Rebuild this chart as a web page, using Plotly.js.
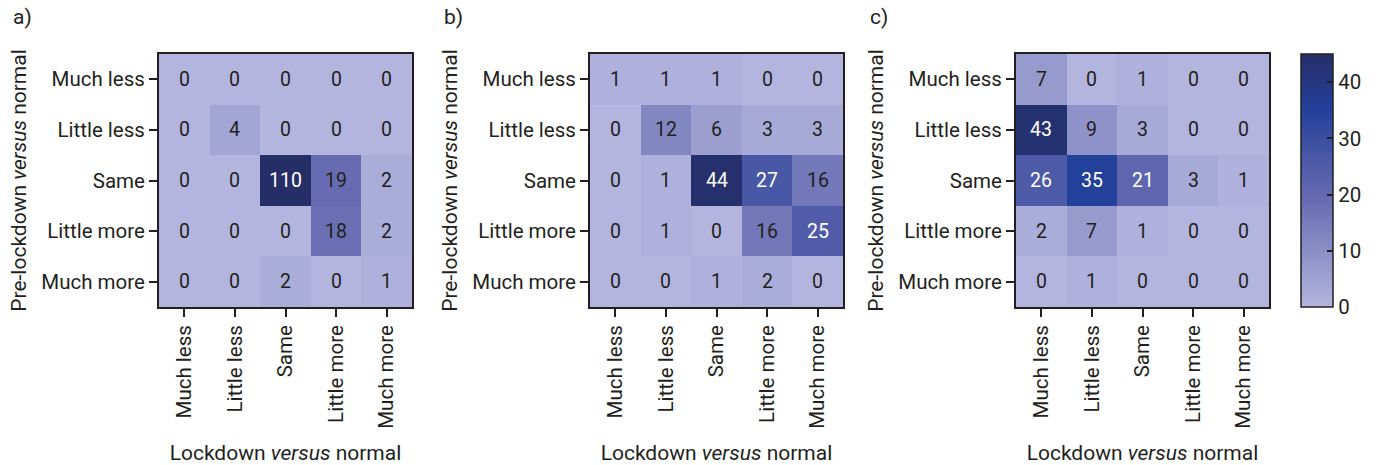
<!DOCTYPE html>
<html>
<head>
<meta charset="utf-8">
<script src="https://cdn.plot.ly/plotly-3.0.1.min.js"></script>
<style>html,body{margin:0;padding:0;background:#fff;}#chart{width:1376px;height:465px;}</style>
</head>
<body>
<div id="chart"></div>
<script>
const lockdownCategories = ["Much less", "Little less", "Same", "Little more", "Much more"];
const preLockdownCategories = ["Much less", "Little less", "Same", "Little more", "Much more"];
const panelLabels = ["a)", "b)", "c)"];

const panelA = [
  [0, 0, 0, 0, 0],
  [0, 4, 0, 0, 0],
  [0, 0, 110, 19, 2],
  [0, 0, 0, 18, 2],
  [0, 0, 2, 0, 1]
];
const panelB = [
  [1, 1, 1, 0, 0],
  [0, 12, 6, 3, 3],
  [0, 1, 44, 27, 16],
  [0, 1, 0, 16, 25],
  [0, 0, 1, 2, 0]
];
const panelC = [
  [7, 0, 1, 0, 0],
  [43, 9, 3, 0, 0],
  [26, 35, 21, 3, 1],
  [2, 7, 1, 0, 0],
  [0, 1, 0, 0, 0]
];
const colorbarTicks = [0, 10, 20, 30, 40];

const panels = [panelA, panelB, panelC];
const W = 1376, H = 465;
const xPix = [[159, 412], [590, 843], [1016, 1269]];
const yPix = [54, 307];
const FONT = "Roboto, 'DejaVu Sans', sans-serif";
const TXT = "#231f20";
const TICK_SIZE = 20.5;
const TITLE_SIZE = 21;
const CELL_SIZE = 19.5;

const colorscale = [
  [0.0, "#b3b5de"],
  [0.22, "#8b8fc6"],
  [0.44, "#6469b0"],
  [0.6, "#4857a6"],
  [0.78, "#23409a"],
  [1.0, "#262e68"]
];

const traces = [];
const annotations = [];
const layout = {
  width: W, height: H,
  margin: {l: 0, r: 0, t: 0, b: 0},
  paper_bgcolor: "#fff", plot_bgcolor: "#fff",
  font: {family: FONT, size: TICK_SIZE, color: TXT},
  showlegend: false
};

panels.forEach((z, i) => {
  const n = i === 0 ? "" : String(i + 1);
  traces.push({
    type: "heatmap",
    z: z,
    x: lockdownCategories,
    y: preLockdownCategories,
    xaxis: "x" + n,
    yaxis: "y" + n,
    zmin: 0, zmax: 45,
    colorscale: colorscale,
    showscale: i === 2,
    hoverinfo: "skip",
    colorbar: {
      x: 1301 / W, xanchor: "left", xpad: 0, ypad: 0,
      thickness: 32, thicknessmode: "pixels",
      len: (yPix[1] - yPix[0]) / H, lenmode: "fraction",
      y: 1 - (yPix[0] + yPix[1]) / 2 / H, yanchor: "middle",
      outlinewidth: 1.5, outlinecolor: TXT,
      tickvals: colorbarTicks,
      ticks: "inside", ticklen: 6, tickwidth: 2, tickcolor: TXT,
      tickfont: {family: FONT, size: TICK_SIZE, color: TXT}
    }
  });
  layout["xaxis" + n] = {
    domain: [xPix[i][0] / W, xPix[i][1] / W],
    anchor: "y" + n,
    type: "category",
    categoryorder: "array", categoryarray: lockdownCategories,
    tickangle: -90,
    ticks: "outside", ticklen: 8, tickwidth: 2, tickcolor: TXT,
    showline: true, mirror: true, linecolor: TXT, linewidth: 2,
    showgrid: false, zeroline: false,
    tickfont: {family: FONT, size: TICK_SIZE, color: TXT},
    title: {text: "Lockdown <i>versus</i> normal", font: {family: FONT, size: TITLE_SIZE, color: TXT}, standoff: 23},
    fixedrange: true
  };
  layout["yaxis" + n] = {
    domain: [1 - yPix[1] / H, 1 - yPix[0] / H],
    anchor: "x" + n,
    type: "category",
    categoryorder: "array", categoryarray: preLockdownCategories,
    autorange: "reversed",
    ticks: "outside", ticklen: 8, tickwidth: 2, tickcolor: TXT,
    showline: true, mirror: true, linecolor: TXT, linewidth: 2,
    showgrid: false, zeroline: false,
    tickfont: {family: FONT, size: TICK_SIZE, color: TXT},
    title: {text: "Pre-lockdown <i>versus</i> normal", font: {family: FONT, size: TITLE_SIZE, color: TXT}, standoff: 9},
    fixedrange: true
  };
  z.forEach((row, r) => {
    row.forEach((v, c) => {
      annotations.push({
        xref: "x" + n, yref: "y" + n,
        x: lockdownCategories[c], y: preLockdownCategories[r],
        text: String(v), showarrow: false,
        font: {family: FONT, size: CELL_SIZE, color: v >= 20 ? "#ffffff" : TXT}
      });
    });
  });
  annotations.push({
    xref: "paper", yref: "paper",
    x: (xPix[i][0] - 148) / W, y: 1 - 3 / H,
    xanchor: "left", yanchor: "top",
    text: panelLabels[i], showarrow: false,
    font: {family: FONT, size: TITLE_SIZE, color: TXT}
  });
});
layout.annotations = annotations;

Plotly.newPlot("chart", traces, layout, {staticPlot: true, displayModeBar: false});
</script>
</body>
</html>
